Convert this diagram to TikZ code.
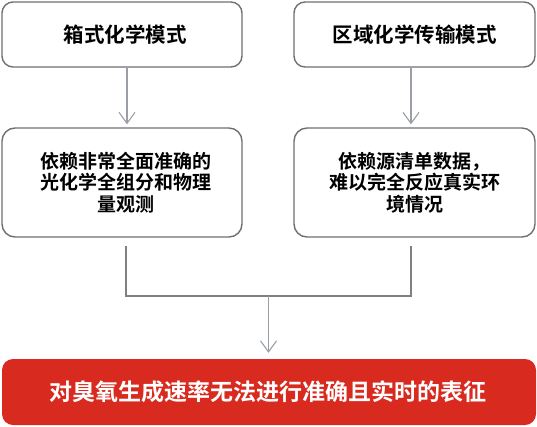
\documentclass[tikz,border=0pt]{standalone}
\usepackage{fontspec}
\setmainfont{Noto Sans CJK SC}[BoldFont={Noto Sans CJK SC Bold}]
\usetikzlibrary{arrows.meta}
\definecolor{boxline}{HTML}{707070}
\definecolor{arrowgray}{HTML}{9A9EA6}
\definecolor{linegray}{HTML}{808080}
\definecolor{redfill}{HTML}{D82A1F}
\tikzset{
  topbox/.style={draw=boxline, line width=1.4pt, rounded corners=11pt, fill=white,
    minimum height=65pt, inner sep=0pt, font=\fontsize{20.5}{24}\selectfont\bfseries},
  midbox/.style={draw=boxline, line width=1.4pt, rounded corners=13pt, fill=white,
    minimum height=109pt, inner sep=0pt, align=center,
    font=\fontsize{19}{21.7}\selectfont\bfseries},
  resbox/.style={fill=redfill, rounded corners=11pt, minimum width=534pt, minimum height=66pt,
    inner sep=0pt, text=white, font=\fontsize{23}{26}\selectfont\bfseries},
  arr/.style={draw=arrowgray, line width=1.1pt, -{Straight Barb[length=11pt,width=16pt,line width=1.1pt]}},
  conn/.style={draw=linegray, line width=1.2pt}
}
\begin{document}
\begin{tikzpicture}[x=1pt,y=-1pt]
\useasboundingbox (0,0) rectangle (537,426);
\node[topbox, minimum width=240pt] (tl) at (122,34.5) {\hspace{6pt}箱式化学模式};
\node[topbox, minimum width=241pt] (tr) at (414.5,34.5) {区域化学传输模式};
\node[midbox, minimum width=240pt] (ml) at (122,182.5) {\hspace{8pt}依赖非常全面准确的\\\hspace{8pt}光化学全组分和物理\\\hspace{8pt}量观测};
\node[midbox, minimum width=241pt] (mr) at (414.5,182.5) {依赖源清单数据，\\难以完全反应真实环\\境情况};
\node[resbox] (res) at (269,392) {\hspace{-2pt}对臭氧生成速率无法进行准确且实时的表征};
\draw[arr, shorten >=3pt] ([xshift=5pt]tl.south) -- ([xshift=5pt]ml.north);
\draw[arr, shorten >=3pt] ([xshift=-3.5pt]tr.south) -- ([xshift=-3.5pt]mr.north);
\coordinate (j) at (268.5,296);
\draw[conn] ([xshift=4pt,yshift=-8pt]ml.south) |- (j) -| ([xshift=-3.5pt,yshift=-8pt]mr.south);
\draw[arr, shorten >=6pt] (j) -- (j |- res.north);
\end{tikzpicture}
\end{document}
